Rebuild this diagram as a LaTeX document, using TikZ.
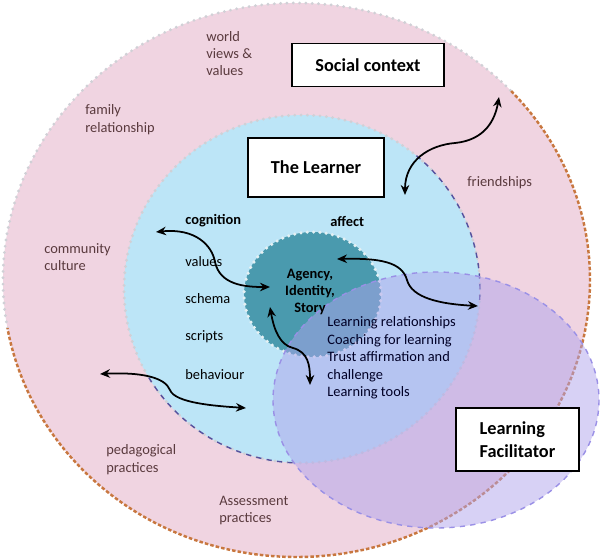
\documentclass[tikz,border=0pt]{standalone}
\usepackage{fontspec}
\setmainfont{Carlito}
\usetikzlibrary{arrows.meta}
\definecolor{socialpink}{HTML}{F0D4E1}
\definecolor{learnerblue}{HTML}{BCE5F7}
\definecolor{coreteal}{HTML}{4A9AAE}
\definecolor{facilpurple}{HTML}{AFA4EC}
\definecolor{edgegrey}{HTML}{D0D0D6}
\definecolor{edgeorange}{HTML}{C8773F}
\definecolor{edgeblue}{HTML}{55519E}
\definecolor{edgelilac}{HTML}{9A90E6}
\definecolor{labelbrown}{HTML}{5A3A3E}
\tikzset{
  lbl/.style={font=\fontsize{8.2}{9.9}\selectfont, text=labelbrown, align=left,
              inner sep=0pt, anchor=west},
  inlbl/.style={lbl, text=black},
  ttl/.style={draw, fill=white, line width=0.9pt, align=left,
              font=\fontsize{10.4}{13}\selectfont\bfseries},
  dotedge/.style={line width=1.8pt, line cap=round, dash pattern=on 0pt off 3.6pt},
  flow/.style={{Stealth[length=2mm, width=1.7mm]}-{Stealth[length=2mm, width=1.7mm]},
               line width=1pt},
}

\begin{document}
\begin{tikzpicture}[x=0.02cm, y=-0.02cm]
  \useasboundingbox (0,0) rectangle (600,559);
  \fill[socialpink] (296.5,280) ellipse [x radius=293.5, y radius=277];
  \draw[dotedge, edgegrey] (296.5,280) ++(170:293.5 and 277)
    arc[start angle=170, end angle=317, x radius=293.5, y radius=277];
  \draw[edgeorange, line width=1.4pt, dash pattern=on 2pt off 1.2pt] (296.5,280) ++(-43:293.5 and 277)
    arc[start angle=-43, end angle=170, x radius=293.5, y radius=277];
  \fill[learnerblue] (302,289) ellipse [x radius=178, y radius=174];
  \draw[dotedge, edgegrey] (302,289) ellipse [x radius=178, y radius=174];
  \draw[edgeblue, line width=0.8pt, dashed] (302,289) ++(-50:178 and 174)
    arc[start angle=-50, end angle=5, x radius=178, y radius=174];
  \draw[edgeblue, line width=0.8pt, dashed] (302,289) ++(93:178 and 174)
    arc[start angle=93, end angle=150, x radius=178, y radius=174];
  \fill[coreteal] (312.5,294.5) ellipse [x radius=68.5, y radius=62.5];
  \draw[dotedge, draw=white!85!coreteal, line width=2pt] (312.5,294.5) ellipse [x radius=68.5, y radius=62.5];
  \fill[facilpurple, fill opacity=0.5] (436,400) ellipse [x radius=163, y radius=128];
  \draw[edgelilac, dashed, line width=0.8pt] (436,400) ellipse [x radius=163, y radius=128];

  \node[lbl] (world) at (206,53.5) {world\\views \&\\values};
  \node[lbl] (family) at (85,119.5) {family\\relationship};
  \node[lbl] (community) at (44,257) {community\\culture};
  \node[lbl] (friends) at (467,183) {friendships};
  \node[lbl] (pedag) at (106,459.5) {pedagogical\\practices};
  \node[lbl] (assess) at (219,510.5) {Assessment\\practices};
  \node[inlbl, font=\fontsize{8.2}{9.9}\selectfont\bfseries] (cogn) at (185,221) {cognition};
  \node[inlbl, font=\fontsize{8.2}{9.9}\selectfont\bfseries] (affect) at (330,221) {affect};
  \node[inlbl] (values) at (185,262) {values};
  \node[inlbl] (schema) at (185,299) {schema};
  \node[inlbl] (scripts) at (185,337) {scripts};
  \node[inlbl] (behav) at (185,375) {behaviour};
  \node[inlbl, anchor=center, align=center, font=\fontsize{8.2}{9.6}\selectfont\bfseries]
    (core) at (310,292) {Agency,\\Identity,\\Story};
  \node[inlbl, text=black!85!blue] (facil) at (327,358)
    {Learning relationships\\Coaching for learning\\Trust affirmation and\\challenge\\Learning tools};

  \node[ttl, minimum width=3.04cm, minimum height=0.86cm, align=center] (social) at (368,65) {Social context};
  \node[ttl, minimum width=2.72cm, minimum height=1.18cm, align=center] (learner) at (316,167.5) {The Learner};
  \node[ttl, minimum width=2.46cm, minimum height=1.26cm] (facilitator) at (517.5,439.5) {Learning\\Facilitator};

  \coordinate (sa1) at (499,97);
  \coordinate (sa2) at (405,195);
  \coordinate (ca1) at (156,232);
  \coordinate (ca2) at (270,287);
  \coordinate (aa1) at (337,259);
  \coordinate (aa2) at (478,306);
  \coordinate (da1) at (270,307);
  \coordinate (da2) at (310,385);
  \coordinate (ba1) at (100,374);
  \coordinate (ba2) at (246,408);
  \draw[flow] (sa2) .. controls (405,160) and (430,145) .. (455,143)
    .. controls (485,140) and (495,120) .. (sa1);
  \draw[flow] (ca1) .. controls (195,228) and (212,245) .. (215,262)
    .. controls (220,285) and (245,287) .. (ca2);
  \draw[flow] (aa1) .. controls (380,258) and (402,262) .. (407,280)
    .. controls (412,298) and (440,304) .. (aa2);
  \draw[flow] (da1) .. controls (274,330) and (280,345) .. (293,348)
    .. controls (308,352) and (310,365) .. (da2);
  \draw[flow] (ba1) .. controls (140,372) and (165,377) .. (170,390)
    .. controls (175,403) and (215,406) .. (ba2);
\end{tikzpicture}
\end{document}
